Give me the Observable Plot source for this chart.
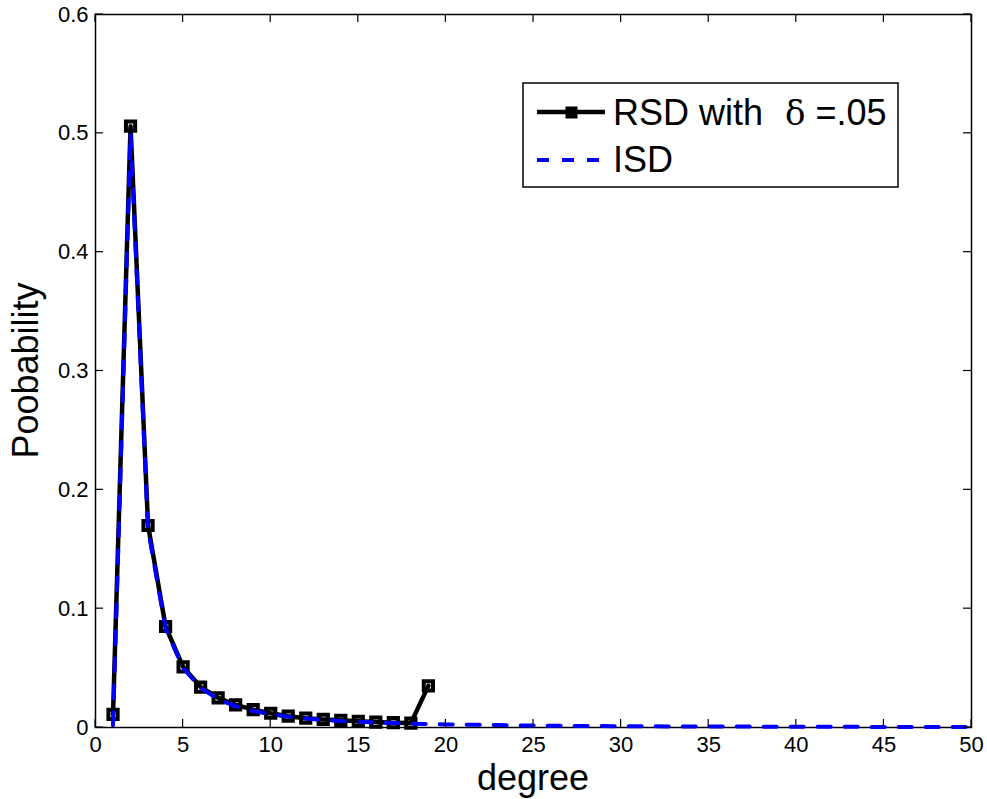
<!DOCTYPE html>
<html>
<head>
<meta charset="utf-8">
<script src="https://cdn.jsdelivr.net/npm/d3@7"></script>
<script src="https://cdn.jsdelivr.net/npm/@observablehq/plot@0.6"></script>
<style>
  html, body { margin: 0; padding: 0; background: #fff; overflow: hidden; }
  #chart svg { display: block; }
</style>
</head>
<body>
<div id="chart"></div>
<script>
// ---- data ----
const rsdDegree = [1,2,3,4,5,6,7,8,9,10,11,12,13,14,15,16,17,18,19];
const rsdProb = [0.011,0.506,0.170,0.085,0.051,0.034,0.025,0.019,0.015,0.012,0.0095,0.0078,0.0068,0.0060,0.0052,0.0046,0.0041,0.0037,0.035];

const isdDegree = [1,2,3,4,5,6,7,8,9,10,11,12,13,14,15,16,17,18,19,20,21,22,23,24,25,26,27,28,29,30,31,32,33,34,35,36,37,38,39,40,41,42,43,44,45,46,47,48,49,50];
const isdProb = [0.002,0.5,0.1667,0.0833,0.05,0.0333,0.0238,0.0179,0.0139,0.0111,0.0091,0.0076,0.0064,0.0055,0.0048,0.0042,0.0037,0.0033,0.0029,0.0026,0.0024,0.0022,0.0020,0.0018,0.0017,0.0015,0.0014,0.0013,0.0012,0.0011,0.0011,0.0010,0.0009,0.0009,0.0008,0.0008,0.0008,0.0007,0.0007,0.0006,0.0006,0.0006,0.0006,0.0005,0.0005,0.0005,0.0005,0.0004,0.0004,0.0004];

const xTicks = [0,5,10,15,20,25,30,35,40,45,50];
const yTicks = [0,0.1,0.2,0.3,0.4,0.5,0.6];
const xLabel = "degree";
const yLabel = "Poobability";
const legendRSD = ["RSD with ", "δ", " =.05"];
const legendISD = "ISD";

const rsd = rsdDegree.map((d, i) => ({degree: d, p: rsdProb[i]}));
const isd = isdDegree.map((d, i) => ({degree: d, p: isdProb[i]}));

const W = 987, H = 799;
const mL = 95, mR = 16, mT = 14, mB = 72;
const FONT = "'Liberation Sans', Arial, Helvetica, sans-serif";

const chart = Plot.plot({
  width: W,
  height: H,
  marginLeft: mL,
  marginRight: mR,
  marginTop: mT,
  marginBottom: mB,
  style: {fontFamily: FONT, fontSize: "22px", background: "#fff", color: "#000"},
  x: {domain: [0, 50], ticks: xTicks, tickSize: 0, tickPadding: 9, label: null, tickFormat: d3.format("~g")},
  y: {domain: [0, 0.6], ticks: yTicks, tickSize: 0, tickPadding: 7, label: null, tickFormat: d3.format("~g")},
  marks: [
    Plot.frame({stroke: "#000", strokeWidth: 1.5}),
    Plot.line(rsd, {x: "degree", y: "p", stroke: "#000", strokeWidth: 4.5}),
    Plot.dot(rsd, {x: "degree", y: "p", symbol: "square", r: 5.2, stroke: "#000", strokeWidth: 4, fill: "none"}),
    Plot.line(isd, {x: "degree", y: "p", stroke: "#0000ff", strokeWidth: 4, strokeDasharray: "13,14"})
  ]
});

document.getElementById("chart").appendChild(chart);

const svg = d3.select(chart);
// force tick label size
svg.selectAll("g[aria-label^='x-axis'], g[aria-label^='y-axis']").attr("font-size", 22).style("font-size", "22px");
svg.selectAll("g[aria-label^='x-axis'] text, g[aria-label^='y-axis'] text").attr("font-size", 22).style("font-size", "22px").attr("fill", "#000");

const sx = chart.scale("x"), sy = chart.scale("y");
const x0 = sx.apply(0), x1 = sx.apply(50), y0 = sy.apply(0), y1 = sy.apply(0.6);
const tl = 8;
const tg = svg.append("g").attr("stroke", "#000").attr("stroke-width", 1.2);
xTicks.forEach(t => {
  const px = sx.apply(t);
  tg.append("line").attr("x1", px).attr("x2", px).attr("y1", y0).attr("y2", y0 - tl);
  tg.append("line").attr("x1", px).attr("x2", px).attr("y1", y1).attr("y2", y1 + tl);
});
yTicks.forEach(t => {
  const py = sy.apply(t);
  tg.append("line").attr("x1", x0).attr("x2", x0 + tl).attr("y1", py).attr("y2", py);
  tg.append("line").attr("x1", x1).attr("x2", x1 - tl).attr("y1", py).attr("y2", py);
});

// axis labels
svg.append("text").attr("x", (x0 + x1) / 2).attr("y", 790)
  .attr("text-anchor", "middle").attr("font-family", FONT).style("font-size", "36px").attr("fill", "#000").text(xLabel);
svg.append("text").attr("transform", `translate(38,${(y0 + y1) / 2}) rotate(-90)`)
  .attr("text-anchor", "middle").attr("font-family", FONT).style("font-size", "36px").attr("fill", "#000").text(yLabel);

// legend
const lg = svg.append("g");
lg.append("rect").attr("x", 523).attr("y", 83).attr("width", 375).attr("height", 104)
  .attr("fill", "#fff").attr("stroke", "#000").attr("stroke-width", 1.5);
lg.append("line").attr("x1", 537).attr("x2", 605).attr("y1", 112).attr("y2", 112)
  .attr("stroke", "#000").attr("stroke-width", 4.5);
lg.append("rect").attr("x", 566).attr("y", 107).attr("width", 11).attr("height", 11)
  .attr("fill", "#000").attr("stroke", "#000").attr("stroke-width", 1);
lg.append("line").attr("x1", 537).attr("x2", 605).attr("y1", 160).attr("y2", 160)
  .attr("stroke", "#0000ff").attr("stroke-width", 4).attr("stroke-dasharray", "12,13");
const t1 = lg.append("text").attr("x", 613).attr("y", 125).attr("text-anchor", "start")
  .attr("font-family", FONT).style("font-size", "36px").attr("fill", "#000");
t1.append("tspan").text(legendRSD[0]);
t1.append("tspan").attr("dx", 12).attr("font-family", "'DejaVu Serif', serif").style("font-size", "34px").text(legendRSD[1]);
t1.append("tspan").text(legendRSD[2]);
lg.append("text").attr("x", 613).attr("y", 172).attr("text-anchor", "start")
  .attr("font-family", FONT).style("font-size", "36px").attr("fill", "#000").text(legendISD);
</script>
</body>
</html>
